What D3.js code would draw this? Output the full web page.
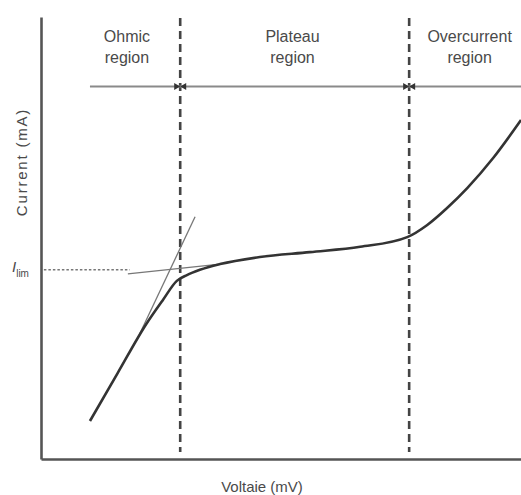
<!DOCTYPE html>
<html>
<head>
<meta charset="utf-8">
<script src="https://cdn.jsdelivr.net/npm/d3@7"></script>
<style>
  html, body { margin: 0; padding: 0; background: #fff; }
  svg { display: block; }
  text { font-family: "Liberation Sans", Arial, sans-serif; fill: #4a4a4a; }
</style>
</head>
<body>
<svg id="chart" width="521" height="495"></svg>
<script>
// Current–voltage characteristic (arbitrary units, 0–100 on both axes)
const curveV = [10.2, 16.0, 21.9, 25.4, 28.3, 30.4, 33.1, 37.3, 45.6, 56.0, 66.5, 76.3, 80.4, 84.6, 88.8, 94.2, 100];
const curveI = [8.6, 19.5, 30.5, 36.0, 40.3, 41.6, 42.8, 44.1, 45.7, 46.8, 48.0, 50.2, 52.9, 56.8, 61.3, 68.1, 76.7];

// Tangent through the ohmic part and tangent along the plateau
const ohmicTangentV = [20.6, 32.1];
const ohmicTangentI = [28.4, 54.8];
const plateauTangentV = [18.1, 37.3];
const plateauTangentI = [41.9, 44.1];

// Limiting current and region boundaries
const iLim = 42.8;
const iLimLineEnd = 18.5;
const boundaries = [29.0, 76.7];
const regionBarLevel = 84.3;
const regionBarStart = 10.2;

const regionNames = [["Ohmic", "region"], ["Plateau", "region"], ["Overcurrent", "region"]];
const regionLabelV = [17.9, 52.4, 89.3];

const xLabel = "Voltaie (mV)";
const yLabel = "Current (mA)";

const svg = d3.select("#chart");

const x = d3.scaleLinear().domain([0, 100]).range([41, 521]);
const y = d3.scaleLinear().domain([0, 100]).range([459, 17]);

const line = d3.line().x(d => x(d[0])).y(d => y(d[1]));

// Axes (plain lines, no ticks)
const xAxis = d3.axisBottom(x).ticks(0).tickSize(0).tickSizeOuter(0);
const yAxis = d3.axisLeft(y).ticks(0).tickSize(0).tickSizeOuter(0);
svg.append("g").attr("transform", `translate(0,${y(0)})`).call(xAxis)
  .call(g => g.select(".domain").attr("stroke", "#555").attr("stroke-width", 2.6));
svg.append("g").attr("transform", `translate(${x(0)},0)`).call(yAxis)
  .call(g => g.select(".domain").attr("stroke", "#555").attr("stroke-width", 2.6));

// Limiting-current dotted guide
svg.append("path")
  .attr("d", line([[0.6, iLim], [iLimLineEnd, iLim]]))
  .attr("stroke", "#777").attr("stroke-width", 1.6)
  .attr("stroke-dasharray", "2.5,2").attr("fill", "none");

// Region boundaries
boundaries.forEach(b => {
  svg.append("path")
    .attr("d", line([[b, 99.8], [b, 1.6]]))
    .attr("stroke", "#444").attr("stroke-width", 2.6)
    .attr("stroke-dasharray", "8,5").attr("fill", "none");
});

// Region bar with markers at the boundaries
svg.append("path")
  .attr("d", line([[regionBarStart, regionBarLevel], [100, regionBarLevel]]))
  .attr("stroke", "#8a8a8a").attr("stroke-width", 2).attr("fill", "none");

boundaries.forEach(b => {
  const bx = x(b), by = y(regionBarLevel);
  svg.append("path")
    .attr("d", `M${bx - 6},${by - 3.5}L${bx},${by}L${bx - 6},${by + 3.5}Z M${bx + 6},${by - 3.5}L${bx},${by}L${bx + 6},${by + 3.5}Z`)
    .attr("fill", "#333");
});

// Tangent construction lines
svg.append("path")
  .attr("d", line(d3.zip(ohmicTangentV, ohmicTangentI)))
  .attr("stroke", "#777").attr("stroke-width", 1.3).attr("fill", "none");
svg.append("path")
  .attr("d", line(d3.zip(plateauTangentV, plateauTangentI)))
  .attr("stroke", "#777").attr("stroke-width", 1.3).attr("fill", "none");

// I–V curve
svg.append("path")
  .attr("d", line.curve(d3.curveMonotoneX)(d3.zip(curveV, curveI)))
  .attr("stroke", "#333").attr("stroke-width", 2.6).attr("fill", "none");

// Region labels
regionNames.forEach((lines, i) => {
  const t = svg.append("text")
    .attr("x", x(regionLabelV[i]))
    .attr("text-anchor", "middle")
    .attr("font-size", 16);
  lines.forEach((s, j) => {
    t.append("tspan").attr("x", x(regionLabelV[i])).attr("y", 42 + j * 21).text(s);
  });
});

// Axis titles
svg.append("text")
  .attr("x", 262).attr("y", 492)
  .attr("text-anchor", "middle").attr("font-size", 15)
  .text(xLabel);

svg.append("text")
  .attr("transform", `translate(27,${162}) rotate(-90)`)
  .attr("text-anchor", "middle").attr("font-size", 15)
  .attr("letter-spacing", 1.8)
  .text(yLabel);

// Limiting current label
const lim = svg.append("text")
  .attr("x", 12).attr("y", y(iLim) + 2)
  .attr("font-size", 15);
lim.append("tspan").attr("font-style", "italic").text("I");
lim.append("tspan").attr("font-size", 10).attr("dy", 5).text("lim");
</script>
</body>
</html>
